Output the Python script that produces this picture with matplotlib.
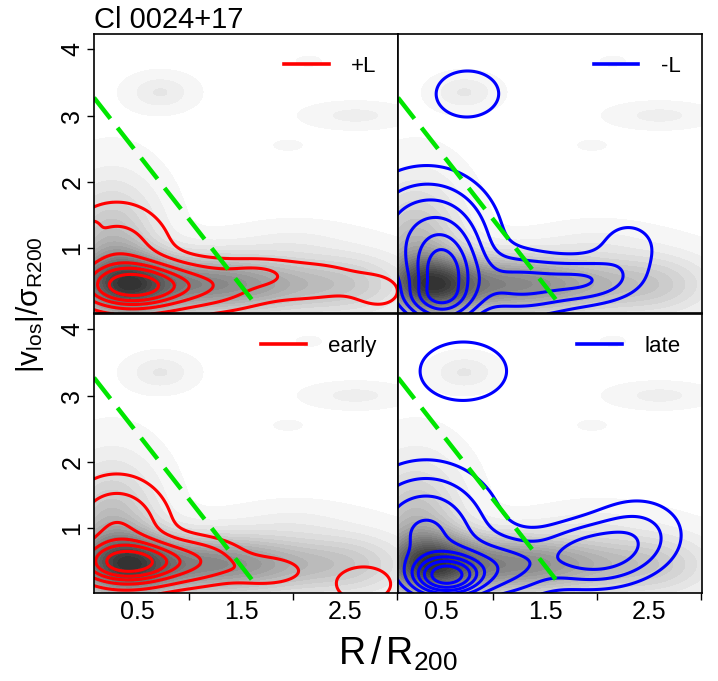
import numpy as np
import matplotlib
matplotlib.use('Agg')
import matplotlib.pyplot as plt
from matplotlib.lines import Line2D

plt.rcParams['font.family'] = ['Liberation Sans', 'DejaVu Sans']
plt.rcParams['mathtext.fontset'] = 'custom'
plt.rcParams['mathtext.rm'] = 'Liberation Sans'
plt.rcParams['mathtext.it'] = 'Liberation Sans'

# density blobs: (R, v, sigma_R, sigma_v, weight)
all_blobs = [(0.42, 0.42, 0.27, 0.30, 0.50),
             (1.10, 0.45, 0.90, 0.30, 0.75),
             (0.25, 1.00, 0.30, 0.65, 0.42),
             (2.60, 0.45, 0.35, 0.35, 0.15),
             (2.00, 1.10, 0.35, 0.20, 0.06),
             (0.72, 3.35, 0.20, 0.17, 0.13),
             (2.60, 3.00, 0.30, 0.12, 0.09),
             (1.95, 2.55, 0.09, 0.05, 0.05),
             (2.15, 3.82, 0.08, 0.05, 0.05)]
plusL_blobs = [(0.45, 0.42, 0.32, 0.22, 1.0),
               (0.30, 0.90, 0.30, 0.45, 0.28),
               (1.10, 0.42, 0.35, 0.22, 0.30),
               (1.65, 0.60, 0.20, 0.12, 0.12),
               (2.10, 0.50, 0.50, 0.25, 0.10),
               (2.85, 0.30, 0.20, 0.22, 0.06),
               (0.06, 1.32, 0.05, 0.08, 0.12)]
minusL_blobs = [(0.52, 0.55, 0.20, 0.45, 1.0),
                (0.45, 0.25, 0.20, 0.15, 0.30),
                (0.35, 1.15, 0.40, 0.60, 0.50),
                (1.25, 0.45, 0.35, 0.30, 0.35),
                (1.90, 0.50, 0.30, 0.22, 0.28),
                (2.30, 1.00, 0.25, 0.35, 0.14),
                (0.75, 3.33, 0.28, 0.32, 0.17)]
early_blobs = [(0.42, 0.47, 0.30, 0.20, 1.0),
               (0.30, 0.95, 0.30, 0.48, 0.38),
               (1.05, 0.50, 0.30, 0.22, 0.30),
               (1.75, 0.35, 0.25, 0.15, 0.15),
               (2.68, 0.15, 0.22, 0.22, 0.15)]
late_blobs = [(0.55, 0.27, 0.22, 0.20, 1.0),
              (0.35, 0.90, 0.40, 0.60, 0.45),
              (1.10, 0.40, 0.30, 0.30, 0.28),
              (1.95, 0.60, 0.35, 0.30, 0.35),
              (2.40, 0.95, 0.30, 0.35, 0.17),
              (0.71, 3.37, 0.36, 0.38, 0.15)]

panel_labels = ['+L', '-L', 'early', 'late']
panel_colors = ['red', 'blue', 'red', 'blue']
panel_blobs = [plusL_blobs, minusL_blobs, early_blobs, late_blobs]
panel_levels = [[0.05, 0.15, 0.30, 0.45, 0.60, 0.80],
                [0.07, 0.15, 0.25, 0.40, 0.60, 0.80],
                [0.06, 0.15, 0.30, 0.45, 0.60, 0.80],
                [0.06, 0.13, 0.22, 0.33, 0.45, 0.57, 0.70, 0.85]]

# green dashed line
line_R = [0.08, 1.66]
line_v = [3.27, 0.10]

xt_major = [0.5, 1.5, 2.5]
xt_minor = [1.0, 2.0, 3.0]
yt = [1, 2, 3, 4]

gx = np.linspace(0.0, 3.1, 400)
gy = np.linspace(0.0, 4.3, 400)
GX, GY = np.meshgrid(gx, gy)


def density(blobs):
    z = np.zeros_like(GX)
    for cx, cy, sx, sy, w in blobs:
        z += w * np.exp(-0.5 * ((GX - cx) / sx) ** 2 - 0.5 * ((GY - cy) / sy) ** 2)
    return z / z.max()


zall = density(all_blobs)
nfill = 24
fill_levels = np.linspace(0.012, 1.0, nfill + 1)
fill_levels[-1] = 1.001
greys = [str(v) for v in np.linspace(0.965, 0.2, nfill)]

fig = plt.figure(figsize=(7.18, 6.81), dpi=100)
lefts = [0.1309, 0.5543, 0.1309, 0.5543]
bottoms = [0.5404, 0.5404, 0.1292, 0.1292]
w, h = 0.4241, 0.4104

for i in range(4):
    ax = fig.add_axes([lefts[i], bottoms[i], w, h])
    ax.contourf(GX, GY, zall, levels=fill_levels, colors=greys)
    z = density(panel_blobs[i])
    ax.contour(GX, GY, z, levels=panel_levels[i], colors=panel_colors[i], linewidths=2.2)
    ax.plot(line_R, line_v, color='#00e600', lw=3.2, dashes=(6, 2.6))
    ax.set_xlim(0.08, 3.015)
    ax.set_ylim(0.015, 4.24)
    for s in ax.spines.values():
        s.set_linewidth(1.2)
    handle = Line2D([], [], color=panel_colors[i], lw=2.6)
    ax.legend([handle], [panel_labels[i]], loc='upper right', frameon=False,
              fontsize=16, handlelength=2.0, handletextpad=1.0, borderaxespad=0.6)

    ax.set_xticks(xt_major)
    ax.set_xticks(xt_minor, minor=True)
    ax.set_yticks(yt)
    ax.tick_params(axis='x', which='major', length=0, pad=5, labelsize=18)
    ax.tick_params(axis='x', which='minor', length=5, width=1.0, direction='out')
    ax.tick_params(axis='y', length=5, width=1.0, direction='out', labelsize=18,
                   labelrotation=90, pad=2)
    if i < 2:
        ax.tick_params(axis='x', which='both', labelbottom=False, length=0)
    if i % 2 == 1:
        ax.tick_params(axis='y', labelleft=False, length=0)
    if i == 0:
        ax.set_title('Cl 0024+17', loc='left', fontsize=21, pad=4, x=0.0)
    for lab in ax.get_yticklabels():
        lab.set_va('center')

fig.text(0.042, 0.552, r'$\mathrm{|v_{los}|/\sigma_{R200}}$', rotation=90,
         ha='center', va='center', fontsize=21.5)
fig.text(0.555, 0.04, r'$\mathrm{R\,/\,R_{200}}$', ha='center', va='center', fontsize=27)

fig.savefig('out.png', dpi=100)
